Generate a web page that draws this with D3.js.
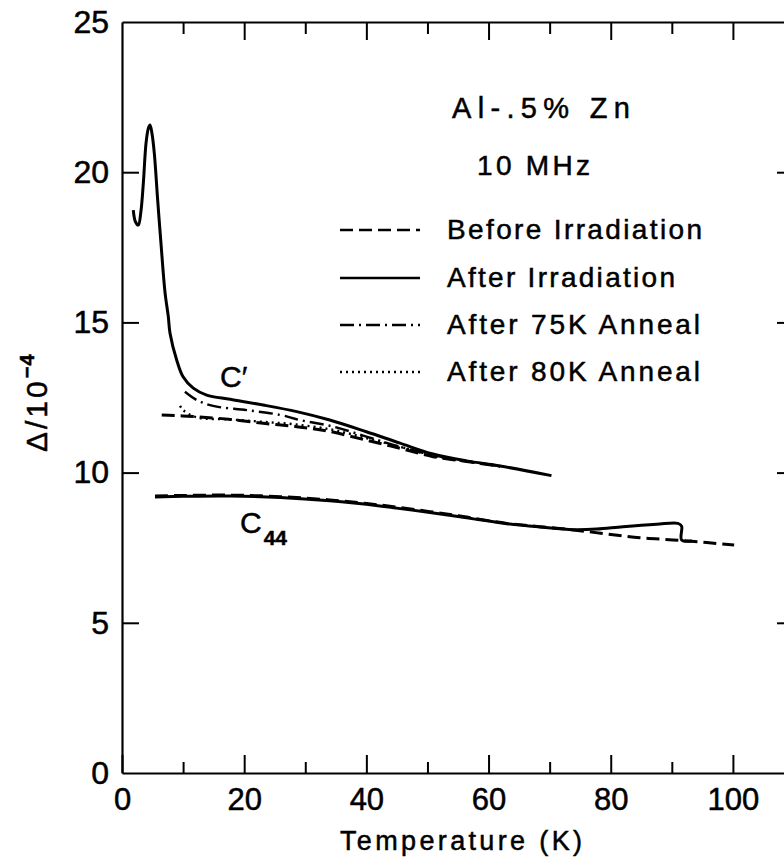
<!DOCTYPE html>
<html>
<head>
<meta charset="utf-8">
<script src="https://cdn.jsdelivr.net/npm/d3@7"></script>
<style>
  html, body { margin: 0; padding: 0; background: #fff; }
  svg { display: block; font-family: "Liberation Sans", Arial, sans-serif; }
  svg text { stroke: #000; stroke-width: 0.5px; }
</style>
</head>
<body>
<svg id="chart" width="784" height="868"></svg>
<script>
// ---------- data ----------
const tempMajorTicks = [0, 20, 40, 60, 80, 100];
const tempMinorTicks = [10, 30, 50, 70, 90];
const deltaTicks = [0, 5, 10, 15, 20, 25];

// C' mode
const cPrimeBeforeT = [6.5, 12.2, 17.7, 23.1, 28.6, 33.5, 40.0, 45.5, 50.9, 56.4, 61.9];
const cPrimeBeforeV = [11.92, 11.86, 11.77, 11.64, 11.53, 11.39, 11.08, 10.81, 10.53, 10.37, 10.21];

const cPrimeAfterT = [1.85, 2.2, 2.67, 3.1, 3.49, 3.93, 4.3, 4.58, 4.9, 5.29, 5.84, 6.38, 7.04, 7.58, 7.86, 8.95, 10.0, 11.67, 13.86, 17.7, 23.1, 28.6, 34.0, 40.0, 45.5, 50.9, 56.4, 61.9, 70.3];
const cPrimeAfterV = [18.74, 18.35, 18.24, 18.7, 19.63, 20.96, 21.45, 21.57, 21.3, 20.63, 19.07, 17.63, 16.0, 15.19, 14.64, 13.75, 13.19, 12.81, 12.58, 12.44, 12.25, 12.03, 11.75, 11.36, 10.98, 10.62, 10.39, 10.22, 9.90];

const cPrimeAnneal75T = [10.3, 12.2, 14.9, 20.4, 25.9, 29.1, 34.6, 40.0, 45.5, 50.9, 56.4, 61.9];
const cPrimeAnneal75V = [12.69, 12.42, 12.22, 12.08, 11.92, 11.75, 11.53, 11.2, 10.86, 10.58, 10.38, 10.21];

const cPrimeAnneal80T = [9.5, 10.0, 12.2, 17.7, 23.1, 28.6, 34.6, 40.0, 45.5, 50.9, 56.4];
const cPrimeAnneal80V = [12.22, 12.08, 11.84, 11.77, 11.69, 11.6, 11.42, 11.15, 10.86, 10.56, 10.37];

// C44 mode
const c44BeforeT = [5.4, 10, 17.7, 25.9, 34, 42.2, 50.4, 55.3, 57.5, 63, 68.4, 73.9, 79.3, 84.8, 90.2, 95.7, 100.2];
const c44BeforeV = [9.22, 9.24, 9.25, 9.20, 9.09, 8.92, 8.70, 8.56, 8.48, 8.31, 8.20, 8.09, 7.96, 7.83, 7.76, 7.67, 7.59];

const c44AfterT = [5.4, 10, 17.7, 25.9, 34, 42.2, 50.4, 55.3, 57.5, 63, 68.4, 73.9, 77.7, 82, 87.5, 91.0, 91.6, 91.6, 93.3];
const c44AfterV = [9.19, 9.21, 9.22, 9.17, 9.06, 8.89, 8.67, 8.53, 8.46, 8.30, 8.19, 8.10, 8.12, 8.20, 8.28, 8.31, 8.22, 7.76, 7.72];

const legendLabels = ["Before Irradiation", "After Irradiation", "After 75K Anneal", "After 80K Anneal"];
const annotationLines = ["Al-.5% Zn", "10 MHz"];
const xTitle = "Temperature (K)";

// ---------- layout ----------
const svg = d3.select("#chart");
const x = d3.scaleLinear().domain([0, 110]).range([122, 794]);
const y = d3.scaleLinear().domain([0, 25]).range([773, 22]);

const styles = {
  dashed:  { dash: "13,6",      width: 3 },
  solid:   { dash: null,        width: 3 },
  dashdot: { dash: "14,5,2,5",  width: 2.4 },
  dotted:  { dash: "2,4",       width: 2.4 }
};

const zip = (T, V) => T.map((t, i) => [t, V[i]]);
const series = [
  { pts: zip(cPrimeBeforeT, cPrimeBeforeV), s: styles.dashed },
  { pts: zip(cPrimeAnneal80T, cPrimeAnneal80V), s: styles.dotted },
  { pts: zip(cPrimeAnneal75T, cPrimeAnneal75V), s: styles.dashdot },
  { pts: zip(cPrimeAfterT, cPrimeAfterV), s: styles.solid },
  { pts: zip(c44BeforeT, c44BeforeV), s: styles.dashed },
  { pts: zip(c44AfterT, c44AfterV), s: styles.solid }
];

const line = d3.line()
  .x(d => x(d[0])).y(d => y(d[1]))
  .curve(d3.curveCatmullRom.alpha(0.5));

// ---------- axes ----------
function styleAxis(g) {
  g.select(".domain").attr("stroke", "#000").attr("stroke-width", 2.2);
  g.selectAll(".tick line").attr("stroke", "#000").attr("stroke-width", 2);
  g.selectAll(".tick text").attr("fill", "#000")
    .style("font-family", '"Liberation Sans", Arial, sans-serif');
}

// bottom
const gB = svg.append("g").attr("transform", `translate(0,${y(0)})`)
  .call(d3.axisBottom(x).tickValues(tempMajorTicks).tickSizeInner(-18).tickSizeOuter(0).tickPadding(15));
styleAxis(gB);
gB.selectAll(".tick text").style("font-size", "31px");
const gBm = svg.append("g").attr("transform", `translate(0,${y(0)})`)
  .call(d3.axisBottom(x).tickValues(tempMinorTicks).tickSizeInner(-11).tickSizeOuter(0).tickFormat(""));
styleAxis(gBm); gBm.select(".domain").remove();

// top
const gT = svg.append("g").attr("transform", `translate(0,${y(25)})`)
  .call(d3.axisTop(x).tickValues(tempMajorTicks.filter(d => d > 0)).tickSizeInner(-18).tickSizeOuter(0).tickFormat(""));
styleAxis(gT);
const gTm = svg.append("g").attr("transform", `translate(0,${y(25)})`)
  .call(d3.axisTop(x).tickValues(tempMinorTicks).tickSizeInner(-12).tickSizeOuter(0).tickFormat(""));
styleAxis(gTm); gTm.select(".domain").remove();

// left
const gL = svg.append("g").attr("transform", `translate(${x(0)},0)`)
  .call(d3.axisLeft(y).tickValues(deltaTicks).tickSizeInner(-17).tickSizeOuter(0).tickPadding(13));
styleAxis(gL);
gL.selectAll(".tick text").style("font-size", "32px");
gL.selectAll(".tick").filter(d => d === 0 || d === 25).select("line").remove();

// right
const gR = svg.append("g").attr("transform", `translate(${x(110)},0)`)
  .call(d3.axisRight(y).tickValues(deltaTicks.filter(d => d > 0 && d < 25)).tickSizeInner(-17).tickSizeOuter(0).tickFormat(""));
styleAxis(gR);

// ---------- curves ----------
svg.append("g").selectAll("path.curve").data(series).join("path")
  .attr("class", "curve")
  .attr("d", d => line(d.pts))
  .attr("fill", "none")
  .attr("stroke", "#000")
  .attr("stroke-width", d => d.s.width)
  .attr("stroke-dasharray", d => d.s.dash)
  .attr("stroke-linejoin", "round")
  .attr("stroke-linecap", "butt");

// ---------- axis titles ----------
svg.append("text")
  .attr("x", 340).attr("y", 850)
  .attr("textLength", 242).attr("lengthAdjust", "spacing")
  .style("font-size", "27px").attr("fill", "#000")
  .text(xTitle);

const yt = svg.append("text")
  .attr("transform", "translate(47,452) rotate(-90)")
  .style("font-size", "30px").style("letter-spacing", "3px").attr("fill", "#000");
yt.append("tspan").text("Δ/10");
yt.append("tspan").attr("dy", -13).style("font-size", "20px").style("font-weight", "bold").style("letter-spacing", "1px").text("−4");

// ---------- annotations ----------
svg.append("text").attr("x", 452).attr("y", 118)
  .attr("textLength", 178).attr("lengthAdjust", "spacing")
  .style("font-size", "29px").attr("fill", "#000").text(annotationLines[0]);
svg.append("text").attr("x", 477).attr("y", 175)
  .attr("textLength", 113).attr("lengthAdjust", "spacing")
  .style("font-size", "28px").attr("fill", "#000").text(annotationLines[1]);

// curve labels
svg.append("text").attr("x", 220).attr("y", 387)
  .style("font-size", "30px").attr("fill", "#000").text("C′");
const c44 = svg.append("text").attr("x", 240).attr("y", 533)
  .style("font-size", "30px").attr("fill", "#000");
c44.append("tspan").text("C");
c44.append("tspan").attr("dy", 12).attr("dx", 2).style("font-size", "21px").style("font-weight", "bold").text("44");

// ---------- legend ----------
const legendStyles = [styles.dashed, styles.solid, styles.dashdot, styles.dotted];
const legendRowsY = [230, 278, 325, 372];
const legendWidths = [255, 228, 253, 253];
const lg = svg.append("g");
legendLabels.forEach((lab, i) => {
  const s = legendStyles[i];
  lg.append("line")
    .attr("x1", 340).attr("x2", 420)
    .attr("y1", legendRowsY[i]).attr("y2", legendRowsY[i])
    .attr("stroke", "#000").attr("stroke-width", Math.min(s.width, 2.6))
    .attr("stroke-dasharray", s.dash);
  lg.append("text")
    .attr("x", 447).attr("y", legendRowsY[i] + 9)
    .attr("textLength", legendWidths[i]).attr("lengthAdjust", "spacing")
    .style("font-size", "28px").attr("fill", "#000")
    .text(lab);
});
</script>
</body>
</html>
